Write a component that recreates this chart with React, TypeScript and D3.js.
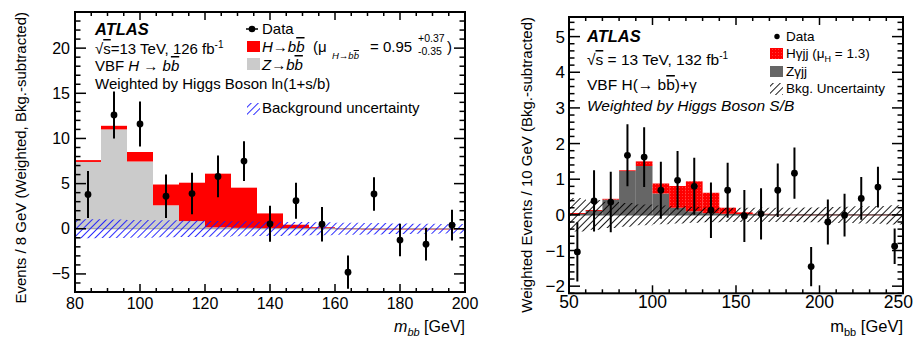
import * as d3 from "d3";

const FONT = "'Liberation Sans', Arial, Helvetica, sans-serif";

// ---- left panel: VBF H -> bb, 8 GeV bins ----
const bbCenters = [84, 92, 100, 108, 116, 124, 132, 140, 148, 156, 164, 172, 180, 188, 196];
const bbZ = [7.4, 11.0, 7.45, 2.6, 0.85, 0.15, 0.1, 0.05, 0.05, 0.05, 0.02, 0, 0, 0, 0];
const bbH = [0.2, 0.4, 1.05, 2.3, 4.25, 5.95, 4.45, 1.65, 0.4, 0.12, 0.02, 0.01, 0.01, 0.01, 0.01];
const bbBand = [1.05, 1.02, 0.98, 0.95, 0.91, 0.87, 0.83, 0.79, 0.75, 0.71, 0.67, 0.63, 0.59, 0.56, 0.52];
const bbData = [3.8, 12.6, 11.6, 3.6, 3.9, 5.8, 7.5, 0.55, 3.1, 0.5, -4.8, 3.85, -1.25, -1.7, 0.4];
const bbErr = [2.6, 2.6, 2.5, 2.4, 2.3, 2.3, 2.2, 2.0, 2.0, 1.9, 1.85, 1.85, 1.8, 1.8, 1.7];
const bbXTicks = [80, 100, 120, 140, 160, 180, 200];
const bbYTicks = [-5, 0, 5, 10, 15, 20];

// ---- right panel: VBF H(->bb)+gamma, 10 GeV bins ----
const gCenters = [55, 65, 75, 85, 95, 105, 115, 125, 135, 145, 155, 165, 175, 185, 195, 205, 215, 225, 235, 245];
const gZ = [0.05, 0.13, 0.43, 1.23, 1.37, 0.6, 0.2, 0.1, 0.05, 0.03, 0.02, 0.01, 0, 0, 0, 0, 0, 0, 0, 0];
const gH = [0, 0, 0.02, 0.02, 0.13, 0.28, 0.61, 0.84, 0.57, 0.17, 0.05, 0.02, 0.01, 0.01, 0.01, 0.01, 0.01, 0.01, 0.01, 0.01];
const gBand = [0.47, 0.42, 0.37, 0.33, 0.29, 0.26, 0.24, 0.22, 0.21, 0.2, 0.2, 0.2, 0.2, 0.2, 0.21, 0.22, 0.23, 0.24, 0.25, 0.27];
const gData = [-1.04, 0.39, 0.36, 1.67, 1.62, 0.69, 0.97, 0.8, 0.13, 0.69, -0.03, 0.03, 0.69, 1.17, -1.45, -0.2, -0.01, 0.46, 0.78, -0.88];
const gErr = [0.83, 0.86, 0.85, 0.87, 0.84, 0.8, 0.82, 0.8, 0.78, 0.77, 0.73, 0.72, 0.75, 0.72, 0.55, 0.63, 0.6, 0.6, 0.57, 0.5];
const gXTicks = [50, 100, 150, 200, 250];
const gYTicks = [-2, -1, 0, 1, 2, 3, 4, 5];

const minus = (v: number) => (v < 0 ? "\u2212" + Math.abs(v) : String(v));

type Lin = d3.ScaleLinear<number, number>;

// frame + ROOT style ticks on all four sides
function Frame({ x, y, xMinor, yMinor, xMajor, yMajor }: { x: Lin; y: Lin; xMinor: number; yMinor: number; xMajor: number[]; yMajor: number[] }) {
  const [x0, x1] = x.range();
  const [y0, y1] = y.range();
  const [dx0, dx1] = x.domain();
  const [dy0, dy1] = y.domain();
  const xm = d3.range(Math.ceil(dx0 / xMinor) * xMinor, dx1 + 1e-6, xMinor);
  const ym = d3.range(Math.ceil(dy0 / yMinor - 1e-6) * yMinor, dy1 + 1e-6, yMinor);
  const isMaj = (arr: number[], v: number) => arr.some((a) => Math.abs(a - v) < 1e-6);
  return (
    <g stroke="#000" fill="none">
      {xm.map((v, i) => {
        const L = isMaj(xMajor, v) ? 8 : 4;
        return (
          <g key={"x" + i}>
            <line x1={x(v)} x2={x(v)} y1={y0} y2={y0 - L} strokeWidth={1.5} />
            <line x1={x(v)} x2={x(v)} y1={y1} y2={y1 + L} strokeWidth={1.5} />
          </g>
        );
      })}
      {ym.map((v, i) => {
        const L = isMaj(yMajor, v) ? 11 : 5.5;
        return (
          <g key={"y" + i}>
            <line x1={x0} x2={x0 + L} y1={y(v)} y2={y(v)} strokeWidth={1.5} />
            <line x1={x1} x2={x1 - L} y1={y(v)} y2={y(v)} strokeWidth={1.5} />
          </g>
        );
      })}
      <rect x={x0} y={y1} width={x1 - x0} height={y0 - y1} strokeWidth={2} />
    </g>
  );
}

function bandPath(x: Lin, y: Lin, centers: number[], hw: number[], w: number) {
  const pts: { x: number; h: number }[] = [];
  centers.forEach((c, i) => {
    pts.push({ x: c - w / 2, h: hw[i] });
    pts.push({ x: c + w / 2, h: hw[i] });
  });
  return d3
    .area<{ x: number; h: number }>()
    .x((d) => x(d.x))
    .y0((d) => y(-d.h))
    .y1((d) => y(d.h))(pts) as string;
}

function LeftPanel() {
  const x = d3.scaleLinear().domain([80, 200]).range([75, 465]);
  const y = d3.scaleLinear().domain([-7, 24]).range([292, 12]);
  const w = 8;
  return (
    <g fontFamily={FONT}>
      <defs>
        <clipPath id="clipL">
          <rect x={75} y={12} width={390} height={280} />
        </clipPath>
      </defs>
      <g clipPath="url(#clipL)">
        {bbCenters.map((c, i) => (
          <g key={i}>
            <rect x={x(c - w / 2)} width={x(c + w / 2) - x(c - w / 2)} y={y(bbZ[i])} height={Math.max(0, y(0) - y(bbZ[i]))} fill="#cbcbcb" />
            <rect x={x(c - w / 2)} width={x(c + w / 2) - x(c - w / 2)} y={y(bbZ[i] + bbH[i])} height={Math.max(0.8, y(bbZ[i]) - y(bbZ[i] + bbH[i]))} fill="#ff0000" />
          </g>
        ))}
        <line x1={75} x2={465} y1={y(0)} y2={y(0)} stroke="#999" strokeWidth={1} />
        <path d={bandPath(x, y, bbCenters, bbBand, w)} fill="url(#hatchBlue)" />
        {bbCenters.map((c, i) => (
          <g key={"d" + i}>
            <line x1={x(c)} x2={x(c)} y1={y(bbData[i] - bbErr[i])} y2={y(bbData[i] + bbErr[i])} stroke="#000" strokeWidth={2} />
            <circle cx={x(c)} cy={y(bbData[i])} r={3.4} fill="#000" />
          </g>
        ))}
      </g>
      <Frame x={x} y={y} xMinor={5} yMinor={1} xMajor={bbXTicks} yMajor={bbYTicks} />
      {bbXTicks.map((v) => (
        <text key={v} x={x(v)} y={309} fontSize={16} textAnchor="middle">{v}</text>
      ))}
      {bbYTicks.map((v) => (
        <text key={v} x={70} y={y(v) + 5.5} fontSize={16} textAnchor="end">{minus(v)}</text>
      ))}
      <text transform="translate(26,12) rotate(-90)" fontSize={15} textAnchor="end">Events / 8 GeV (Weighted, Bkg.-subtracted)</text>
      <text x={465} y={332} fontSize={16} textAnchor="end">
        <tspan fontStyle="italic">m</tspan>
        <tspan fontStyle="italic" fontSize={11} dy={4}>bb</tspan>
        <tspan dy={-4}> [GeV]</tspan>
      </text>

      <text x={95} y={35} fontSize={16.5} fontWeight="bold" fontStyle="italic">ATLAS</text>
      <text x={95} y={54} fontSize={15}>
        √<tspan textDecoration="overline">s</tspan>=13 TeV, 126 fb<tspan fontSize={10} dy={-6}>-1</tspan>
      </text>
      <text x={95} y={71} fontSize={15}>
        VBF <tspan fontStyle="italic">H</tspan> → <tspan fontStyle="italic">b</tspan><tspan fontStyle="italic" textDecoration="overline">b</tspan>
      </text>
      <text x={95} y={89} fontSize={15}>Weighted by Higgs Boson ln(1+s/b)</text>

      <line x1={246} x2={258} y1={29} y2={29} stroke="#000" strokeWidth={1.5} />
      <circle cx={252} cy={29} r={3.3} fill="#000" />
      <text x={262} y={34} fontSize={15}>Data</text>
      <rect x={247} y={41} width={13} height={11} fill="#ff0000" />
      <text x={262} y={52} fontSize={15} fontStyle="italic">
        H→b<tspan textDecoration="overline">b</tspan>
      </text>
      <text x={313} y={52} fontSize={15}>(μ</text>
      <text x={332} y={59} fontSize={9.5} fontStyle="italic">
        H→b<tspan textDecoration="overline">b</tspan>
      </text>
      <text x={370} y={52} fontSize={15}>= 0.95</text>
      <text x={418} y={42} fontSize={10.5}>+0.37</text>
      <text x={418} y={55} fontSize={10.5}>-0.35</text>
      <text x={447} y={52} fontSize={15}>)</text>
      <rect x={247} y={58} width={13} height={12} fill="#cbcbcb" />
      <text x={262} y={70} fontSize={15} fontStyle="italic">
        Z→b<tspan textDecoration="overline">b</tspan>
      </text>
      <rect x={247} y={103} width={13} height={12} fill="url(#hatchBlue)" />
      <text x={262} y={113} fontSize={15}>Background uncertainty</text>
    </g>
  );
}

function RightPanel() {
  const x = d3.scaleLinear().domain([50, 250]).range([569, 903]);
  const y = d3.scaleLinear().domain([-2.2, 5.55]).range([293.3, 17]);
  const w = 10;
  const last = gXTicks[gXTicks.length - 1];
  return (
    <g fontFamily={FONT}>
      <defs>
        <clipPath id="clipR">
          <rect x={569} y={17} width={334} height={276.3} />
        </clipPath>
      </defs>
      <g clipPath="url(#clipR)">
        {gCenters.map((c, i) => (
          <g key={i}>
            <rect x={x(c - w / 2)} width={x(c + w / 2) - x(c - w / 2)} y={y(gZ[i])} height={Math.max(0, y(0) - y(gZ[i]))} fill="#666666" />
            <rect x={x(c - w / 2)} width={x(c + w / 2) - x(c - w / 2)} y={y(gZ[i] + gH[i])} height={Math.max(0.8, y(gZ[i]) - y(gZ[i] + gH[i]))} fill="url(#redDots)" />
          </g>
        ))}
        <line x1={569} x2={903} y1={y(0)} y2={y(0)} stroke="#555" strokeWidth={1.2} />
        <path d={bandPath(x, y, gCenters, gBand, w)} fill="url(#hatchBlack)" />
        {gCenters.map((c, i) => (
          <g key={"d" + i}>
            <line x1={x(c)} x2={x(c)} y1={y(gData[i] - gErr[i])} y2={y(gData[i] + gErr[i])} stroke="#000" strokeWidth={2} />
            <circle cx={x(c)} cy={y(gData[i])} r={3.4} fill="#000" />
          </g>
        ))}
      </g>
      <Frame x={x} y={y} xMinor={10} yMinor={0.2} xMajor={gXTicks} yMajor={gYTicks} />
      {gXTicks.map((v) =>
        v === last ? (
          <text key={v} x={913} y={308} fontSize={17.5} textAnchor="end">{v}</text>
        ) : (
          <text key={v} x={x(v)} y={308} fontSize={17.5} textAnchor="middle">{v}</text>
        )
      )}
      {gYTicks.map((v) => (
        <text key={v} x={565} y={y(v) + 6} fontSize={17} textAnchor="end">{minus(v)}</text>
      ))}
      <text transform="translate(532,17) rotate(-90)" fontSize={15} textAnchor="end">Weighted Events / 10 GeV (Bkg.-subtracted)</text>
      <text x={903} y={332} fontSize={16.5} textAnchor="end">
        m<tspan fontSize={11} dy={4}>bb</tspan>
        <tspan dy={-4}> [GeV]</tspan>
      </text>

      <text x={587} y={42} fontSize={16.5} fontWeight="bold" fontStyle="italic">ATLAS</text>
      <text x={587} y={65} fontSize={15.5}>
        √<tspan textDecoration="overline">s</tspan> = 13 TeV, 132 fb<tspan fontSize={10} dy={-6}>-1</tspan>
      </text>
      <text x={587} y={90} fontSize={15.5}>
        VBF H(→ b<tspan textDecoration="overline">b</tspan>)+γ
      </text>
      <text x={587} y={111} fontSize={15.5} fontStyle="italic">Weighted by Higgs Boson S/B</text>

      <circle cx={777} cy={36.5} r={2.7} fill="#000" />
      <text x={786} y={41} fontSize={13.5}>Data</text>
      <rect x={770} y={48} width={13} height={11} fill="url(#redDots)" />
      <text x={786} y={58} fontSize={13.5}>
        Hγjj (μ<tspan fontSize={9} dy={4}>H</tspan><tspan dy={-4}> = 1.3)</tspan>
      </text>
      <rect x={770} y={66} width={13} height={11} fill="#666666" />
      <text x={786} y={76} fontSize={13.5}>Zγjj</text>
      <rect x={770} y={83} width={13} height={12} fill="url(#hatchBlack)" />
      <text x={786} y={93} fontSize={13.5}>Bkg. Uncertainty</text>
    </g>
  );
}

export default function App() {
  return (
    <svg width={916} height={340} style={{ position: "absolute", left: 0, top: 0, background: "#fff" }}>
      <defs>
        <pattern id="hatchBlue" width={5} height={5} patternUnits="userSpaceOnUse" patternTransform="rotate(45)">
          <line x1={0} y1={0} x2={0} y2={5} stroke="#1515ff" strokeWidth={1.8} />
        </pattern>
        <pattern id="hatchBlack" width={5} height={5} patternUnits="userSpaceOnUse" patternTransform="rotate(45)">
          <line x1={0} y1={0} x2={0} y2={5} stroke="#000" strokeWidth={1.8} />
        </pattern>
        <pattern id="redDots" width={3} height={3} patternUnits="userSpaceOnUse">
          <rect width={3} height={3} fill="#ff0000" />
          <rect x={1} y={1} width={1} height={1} fill="#ff3a3a" />
        </pattern>
      </defs>
      <rect width={916} height={340} fill="#fff" />
      <LeftPanel />
      <RightPanel />
    </svg>
  );
}
